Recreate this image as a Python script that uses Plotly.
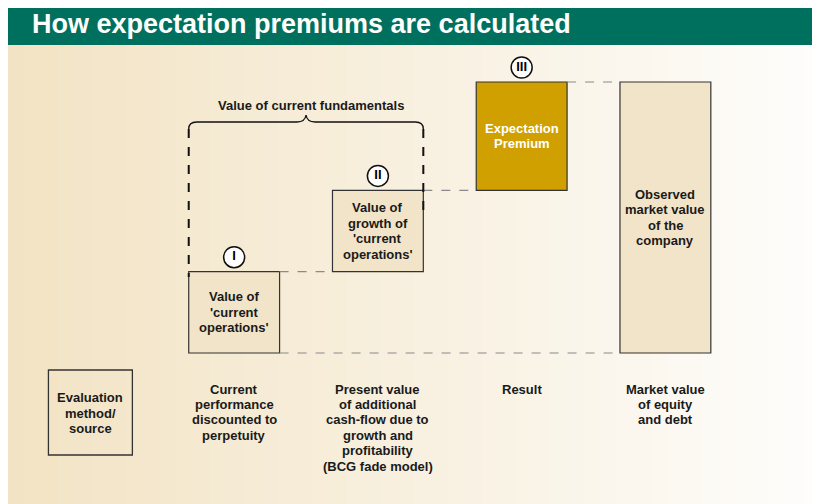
import plotly.graph_objects as go

W, H = 820, 504
OFF = 8  # the page body adds an 8px margin around the figure
FW, FH = W - OFF, H - OFF

title = "How expectation premiums are calculated"
brace_label = "Value of current fundamentals"

columns = [
    "Evaluation<br>method/<br>source",
    "Current<br>performance<br>discounted to<br>perpetuity",
    "Present value<br>of additional<br>cash-flow due to<br>growth and<br>profitability<br>(BCG fade model)",
    "Result",
    "Market value<br>of equity<br>and debt",
]
bar_labels = [
    "Value of<br>'current<br>operations'",
    "Value of<br>growth of<br>'current<br>operations'",
    "Expectation<br>Premium",
    "Observed<br>market value<br>of the<br>company",
]
steps = ["I", "II", "III"]
step_values = [30, 30, 40]  # share of observed market value
market_value = 100

# waterfall bookkeeping
bases = []
run = 0
for v in step_values:
    bases.append(run)
    run += v
tops = [b + v for b, v in zip(bases, step_values)]

bar_x = columns[1:4] + [columns[4]]
bar_y = step_values + [market_value]
bar_base = bases + [0]

# axis scaling (in window pixels): px per column, px per unit of value
COL_PX, COL0_PX = 143.75, 90.4
UNIT_PX, ZERO_PX = 2.71, 353.0
x_range = [-(COL0_PX - OFF) / COL_PX, (W - COL0_PX) / COL_PX]
y_hi = (ZERO_PX - OFF) / UNIT_PX
y_range = [y_hi - FH / UNIT_PX, y_hi]
hw = 0.316  # half bar width in column units


def px(x):
    return (x - OFF) / FW


def py(y):
    return 1 - (y - OFF) / FH


def val(y):
    return y_hi - (y - OFF) / UNIT_PX


def val_to_px(v):
    return (y_hi - v) * UNIT_PX + OFF


FONT = "Liberation Sans, Arial, sans-serif"
INK = "#1a1a1a"
BOX = "#f2e4c8"
GOLD = "#cfa000"
TEAL = "#00705e"
LINE_PX = 15.4

fig = go.Figure()

fig.add_trace(
    go.Bar(
        x=bar_x,
        y=bar_y,
        base=bar_base,
        width=2 * hw,
        marker={
            "color": [BOX, BOX, GOLD, BOX],
            "line": {"color": "#333333", "width": 1.2},
        },
        hoverinfo="skip",
    )
)

fig.add_trace(
    go.Scatter(
        x=columns[1:4],
        y=[t + 14.5 / UNIT_PX for t in tops],
        mode="markers+text",
        text=steps,
        textposition="middle center",
        textfont={"family": FONT, "size": 13, "color": "#000", "weight": "bold"},
        marker={"size": 21, "color": "white", "line": {"color": "#111", "width": 1.5}},
        hoverinfo="skip",
    )
)

shapes = []

# background gradient tan -> white
left_c = (242, 227, 196)
right_c = (254, 253, 251)
n = 48
x0, x1 = 7, W
for i in range(n):
    t = i / (n - 1)
    c = tuple(round(a + (b - a) * t) for a, b in zip(left_c, right_c))
    shapes.append(dict(
        type="rect", xref="paper", yref="paper", layer="below",
        x0=px(x0 + (x1 - x0) * i / n), x1=px(x0 + (x1 - x0) * (i + 1) / n + 1),
        y0=py(H), y1=py(45), line={"width": 0},
        fillcolor="rgb(%d,%d,%d)" % c,
    ))

# header band
shapes.append(dict(type="rect", xref="paper", yref="paper", x0=px(5), x1=px(W),
                   y0=py(45), y1=py(6), fillcolor=TEAL, line={"width": 0}))

# grey dashed connectors between bars
grey = {"color": "#8a8a8a", "width": 1.2, "dash": "dash"}
for i, t in enumerate(tops):
    shapes.append(dict(type="line", xref="x", yref="y",
                       x0=i + 1 + hw, x1=i + 2 - hw, y0=t, y1=t, line=grey))
shapes.append(dict(type="line", xref="x", yref="y",
                   x0=1 + hw, x1=4 - hw, y0=0, y1=0, line=grey))

# brace over the current fundamentals
bl, br = 1 - hw, 2 + hw
lx = COL0_PX + bl * COL_PX
rx = COL0_PX + br * COL_PX
mx = (lx + rx) / 2
pts = [
    ("M", [(lx, 129)]),
    ("Q", [(lx, 122), (lx + 8, 122)]),
    ("L", [(mx - 9, 122)]),
    ("Q", [(mx - 1, 122), (mx, 115)]),
    ("Q", [(mx + 1, 122), (mx + 9, 122)]),
    ("L", [(rx - 8, 122)]),
    ("Q", [(rx, 122), (rx, 129)]),
]
path = " ".join(
    cmd + " " + " ".join("%.5f,%.5f" % (px(a), py(b)) for a, b in p) for cmd, p in pts
)
shapes.append(dict(type="path", xref="paper", yref="paper", path=path,
                   line={"color": "#111", "width": 1.3}))

black = {"color": "#111", "width": 2, "dash": "dash"}
shapes.append(dict(type="line", xref="x", yref="y", x0=bl, x1=bl,
                   y0=val(129), y1=tops[0] - 2, line=black))
shapes.append(dict(type="line", xref="x", yref="y", x0=br, x1=br,
                   y0=val(129), y1=val(212), line=black))

# evaluation method box
shapes.append(dict(type="rect", xref="x", yref="paper", x0=-0.292, x1=0.292,
                   y0=py(455), y1=py(370), fillcolor="rgba(0,0,0,0)",
                   line={"color": "#333333", "width": 1.3}))

annotations = [
    dict(text=title, xref="paper", yref="paper", x=px(30), y=py(24),
         xanchor="left", yanchor="middle", showarrow=False,
         font={"family": FONT, "size": 27, "color": "white", "weight": "bold"}),
    dict(text=brace_label, xref="paper", yref="paper", x=px(311), y=py(105),
         xanchor="center", yanchor="middle", showarrow=False,
         font={"family": FONT, "size": 13, "color": INK, "weight": "bold"}),
]


def add_block(text, x, yc_px, color=INK, size=13):
    lines = text.split("<br>")
    first = yc_px - (len(lines) - 1) / 2 * LINE_PX
    for k, line in enumerate(lines):
        annotations.append(dict(
            text=line, xref="x", yref="paper", x=x, y=py(first + k * LINE_PX),
            xanchor="center", yanchor="middle", showarrow=False,
            font={"family": FONT, "size": size, "color": color, "weight": "bold"},
        ))


add_block(columns[0], columns[0], 413)
for c in columns[1:]:
    nl = len(c.split("<br>"))
    add_block(c, c, 389 + (nl - 1) / 2 * LINE_PX)
for i, lab in enumerate(bar_labels):
    yc = val_to_px(bar_base[i] + bar_y[i] / 2)
    add_block(lab, bar_x[i], yc, color="white" if i == 2 else INK)

fig.update_layout(
    width=FW,
    height=FH,
    margin={"l": 0, "r": 0, "t": 0, "b": 0},
    paper_bgcolor="white",
    plot_bgcolor="white",
    showlegend=False,
    xaxis={"type": "category", "categoryarray": columns, "categoryorder": "array",
           "range": x_range, "visible": False, "fixedrange": True},
    yaxis={"range": y_range, "visible": False, "fixedrange": True},
    shapes=shapes,
    annotations=annotations,
)

fig.write_html("out.html")
